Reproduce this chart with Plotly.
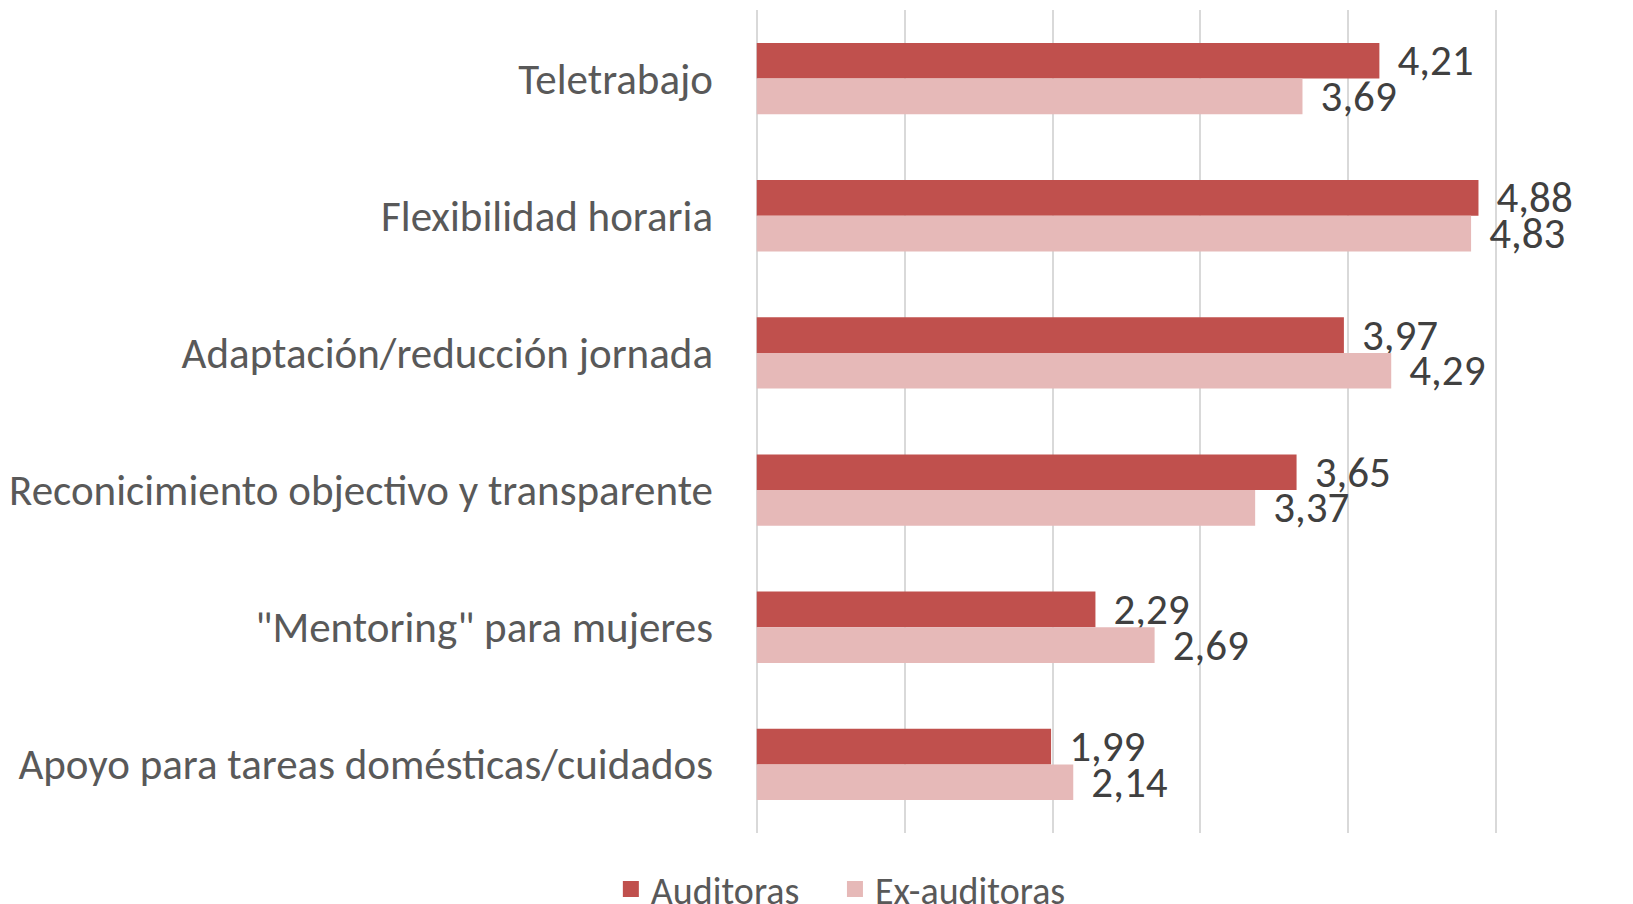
import plotly.graph_objects as go

categories = [
    "Teletrabajo",
    "Flexibilidad horaria",
    "Adaptación/reducción jornada",
    "Reconicimiento objectivo y transparente",
    "\"Mentoring\" para mujeres",
    "Apoyo para tareas domésticas/cuidados",
]
auditoras = [4.21, 4.88, 3.97, 3.65, 2.29, 1.99]
ex_auditoras = [3.69, 4.83, 4.29, 3.37, 2.69, 2.14]
series_names = ["Auditoras", "Ex-auditoras"]
colors = ["#C0504D", "#E6B9B8"]

FONT = "Carlito, Calibri, Lato, sans-serif"

fig = go.Figure()
for i, (name, vals, col) in enumerate(zip(series_names, [auditoras, ex_auditoras], colors)):
    fig.add_trace(go.Bar(
        name=name, y=categories, x=vals, orientation="h",
        marker=dict(color=col, line=dict(width=0)),
        texttemplate="\u00a0\u200a%{x:.2f}", textposition="outside",
        constraintext="none", cliponaxis=False,
        textfont=dict(family=FONT, size=43, color="#404040"),
        showlegend=False,
    ))
    fig.add_trace(go.Scatter(
        name=name + ("\u00a0" * 3 + "\u200a" if i == 0 else ""), x=[None], y=[None], mode="markers",
        marker=dict(symbol="square", size=16, color=col, line=dict(width=0)),
        showlegend=True,
    ))

fig.update_layout(
    width=1625, height=896,
    paper_bgcolor="white", plot_bgcolor="white",
    margin=dict(l=747, r=135, t=2, b=71, autoexpand=False),
    barmode="group", bargap=0.48, bargroupgap=0,
    separators=",.",
    font=dict(family=FONT, color="#595959"),
    xaxis=dict(range=[-0.012, 5.012], dtick=1, showticklabels=False, showgrid=True,
               gridcolor="#D9D9D9", gridwidth=1.5, zeroline=False, showline=False),
    yaxis=dict(autorange="reversed", showgrid=False, showline=False, ticks="",
               ticklabelstandoff=41,
               tickfont=dict(family=FONT, size=43, color="#595959")),
    legend=dict(orientation="h", x=-0.194, xanchor="left", y=-0.030, yanchor="top",
                font=dict(family=FONT, size=38, color="#595959"),
                traceorder="normal"),
)

fig.write_html("out.html")
